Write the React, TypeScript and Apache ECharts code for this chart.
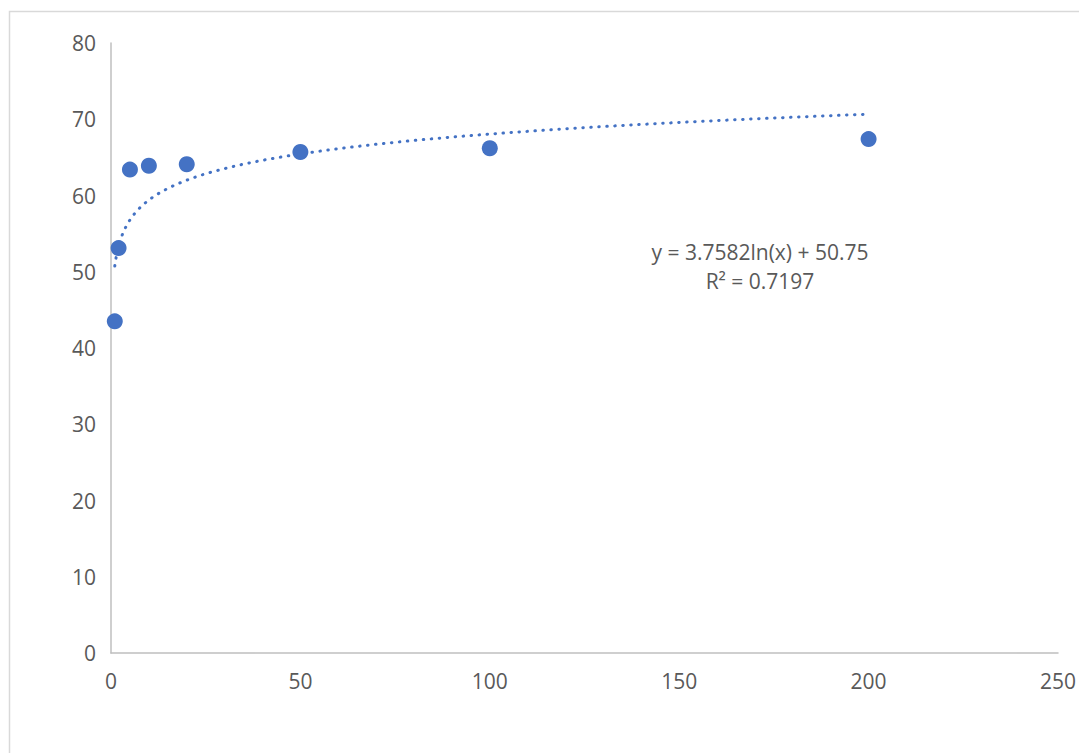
import React, { useEffect, useRef } from "react";
import * as echarts from "echarts";

const xValues = [1, 2, 5, 10, 20, 50, 100, 200];
const yValues = [43.5, 53.1, 63.4, 63.9, 64.1, 65.7, 66.2, 67.4];
const xTicks = { min: 0, max: 250, interval: 50 };
const yTicks = { min: 0, max: 80, interval: 10 };
// Trendline coefficients as printed in the chart: y = a ln(x) + b
const trendA = 3.7582;
const trendB = 50.75;
const trendRange = [1, 200];
const equationText = "y = 3.7582ln(x) + 50.75";
const r2Text = "R² = 0.7197";

export default function App() {
  const ref = useRef<HTMLDivElement>(null);
  useEffect(() => {
    document.body.style.margin = "0";
    if (!ref.current) return;
    const chart = echarts.init(ref.current, null, { renderer: "svg" });
    const trend: number[][] = [];
    const steps = 400;
    for (let i = 0; i <= steps; i++) {
      const x = trendRange[0] * Math.pow(trendRange[1] / trendRange[0], i / steps);
      trend.push([x, trendA * Math.log(x) + trendB]);
    }
    const color = "#4472C4";
    const labelColor = "#595959";
    const font = "'Open Sans', 'Noto Sans', sans-serif";
    chart.setOption({
      animation: false,
      backgroundColor: "#ffffff",
      grid: { left: 111, right: 20, top: 43, bottom: 100, containLabel: false },
      xAxis: {
        type: "value",
        min: xTicks.min,
        max: xTicks.max,
        interval: xTicks.interval,
        axisLine: { show: true, onZero: false, lineStyle: { color: "#bfbfbf", width: 1.5 } },
        axisTick: { show: false },
        splitLine: { show: false },
        axisLabel: { color: labelColor, fontSize: 21, fontFamily: font, margin: 17 },
      },
      yAxis: {
        type: "value",
        min: yTicks.min,
        max: yTicks.max,
        interval: yTicks.interval,
        axisLine: { show: true, onZero: false, lineStyle: { color: "#bfbfbf", width: 1.5 } },
        axisTick: { show: false },
        splitLine: { show: false },
        axisLabel: { color: labelColor, fontSize: 21, fontFamily: font, margin: 15 },
      },
      series: [
        {
          type: "line",
          data: trend,
          showSymbol: false,
          smooth: false,
          lineStyle: { color, width: 3, type: [0.5, 7.5], cap: "round" },
          z: 2,
        },
        {
          type: "scatter",
          data: xValues.map((x, i) => [x, yValues[i]]),
          symbolSize: 16,
          itemStyle: { color, opacity: 1 },
          z: 3,
        },
      ],
      graphic: [
        {
          type: "rect",
          shape: { x: 9.5, y: 11.5, width: 1200, height: 900 },
          style: { fill: "none", stroke: "#d9d9d9", lineWidth: 1.5 },
          silent: true,
        },
        {
          type: "text",
          x: 760,
          y: 252,
          style: {
            text: equationText,
            fill: labelColor,
            font: `21px ${font}`,
            align: "center",
            verticalAlign: "middle",
          },
        },
        {
          type: "text",
          x: 760,
          y: 281,
          style: {
            text: r2Text,
            fill: labelColor,
            font: `21px ${font}`,
            align: "center",
            verticalAlign: "middle",
          },
        },
      ],
    });
    return () => chart.dispose();
  }, []);
  return <div ref={ref} style={{ width: 1079, height: 753 }} />;
}
